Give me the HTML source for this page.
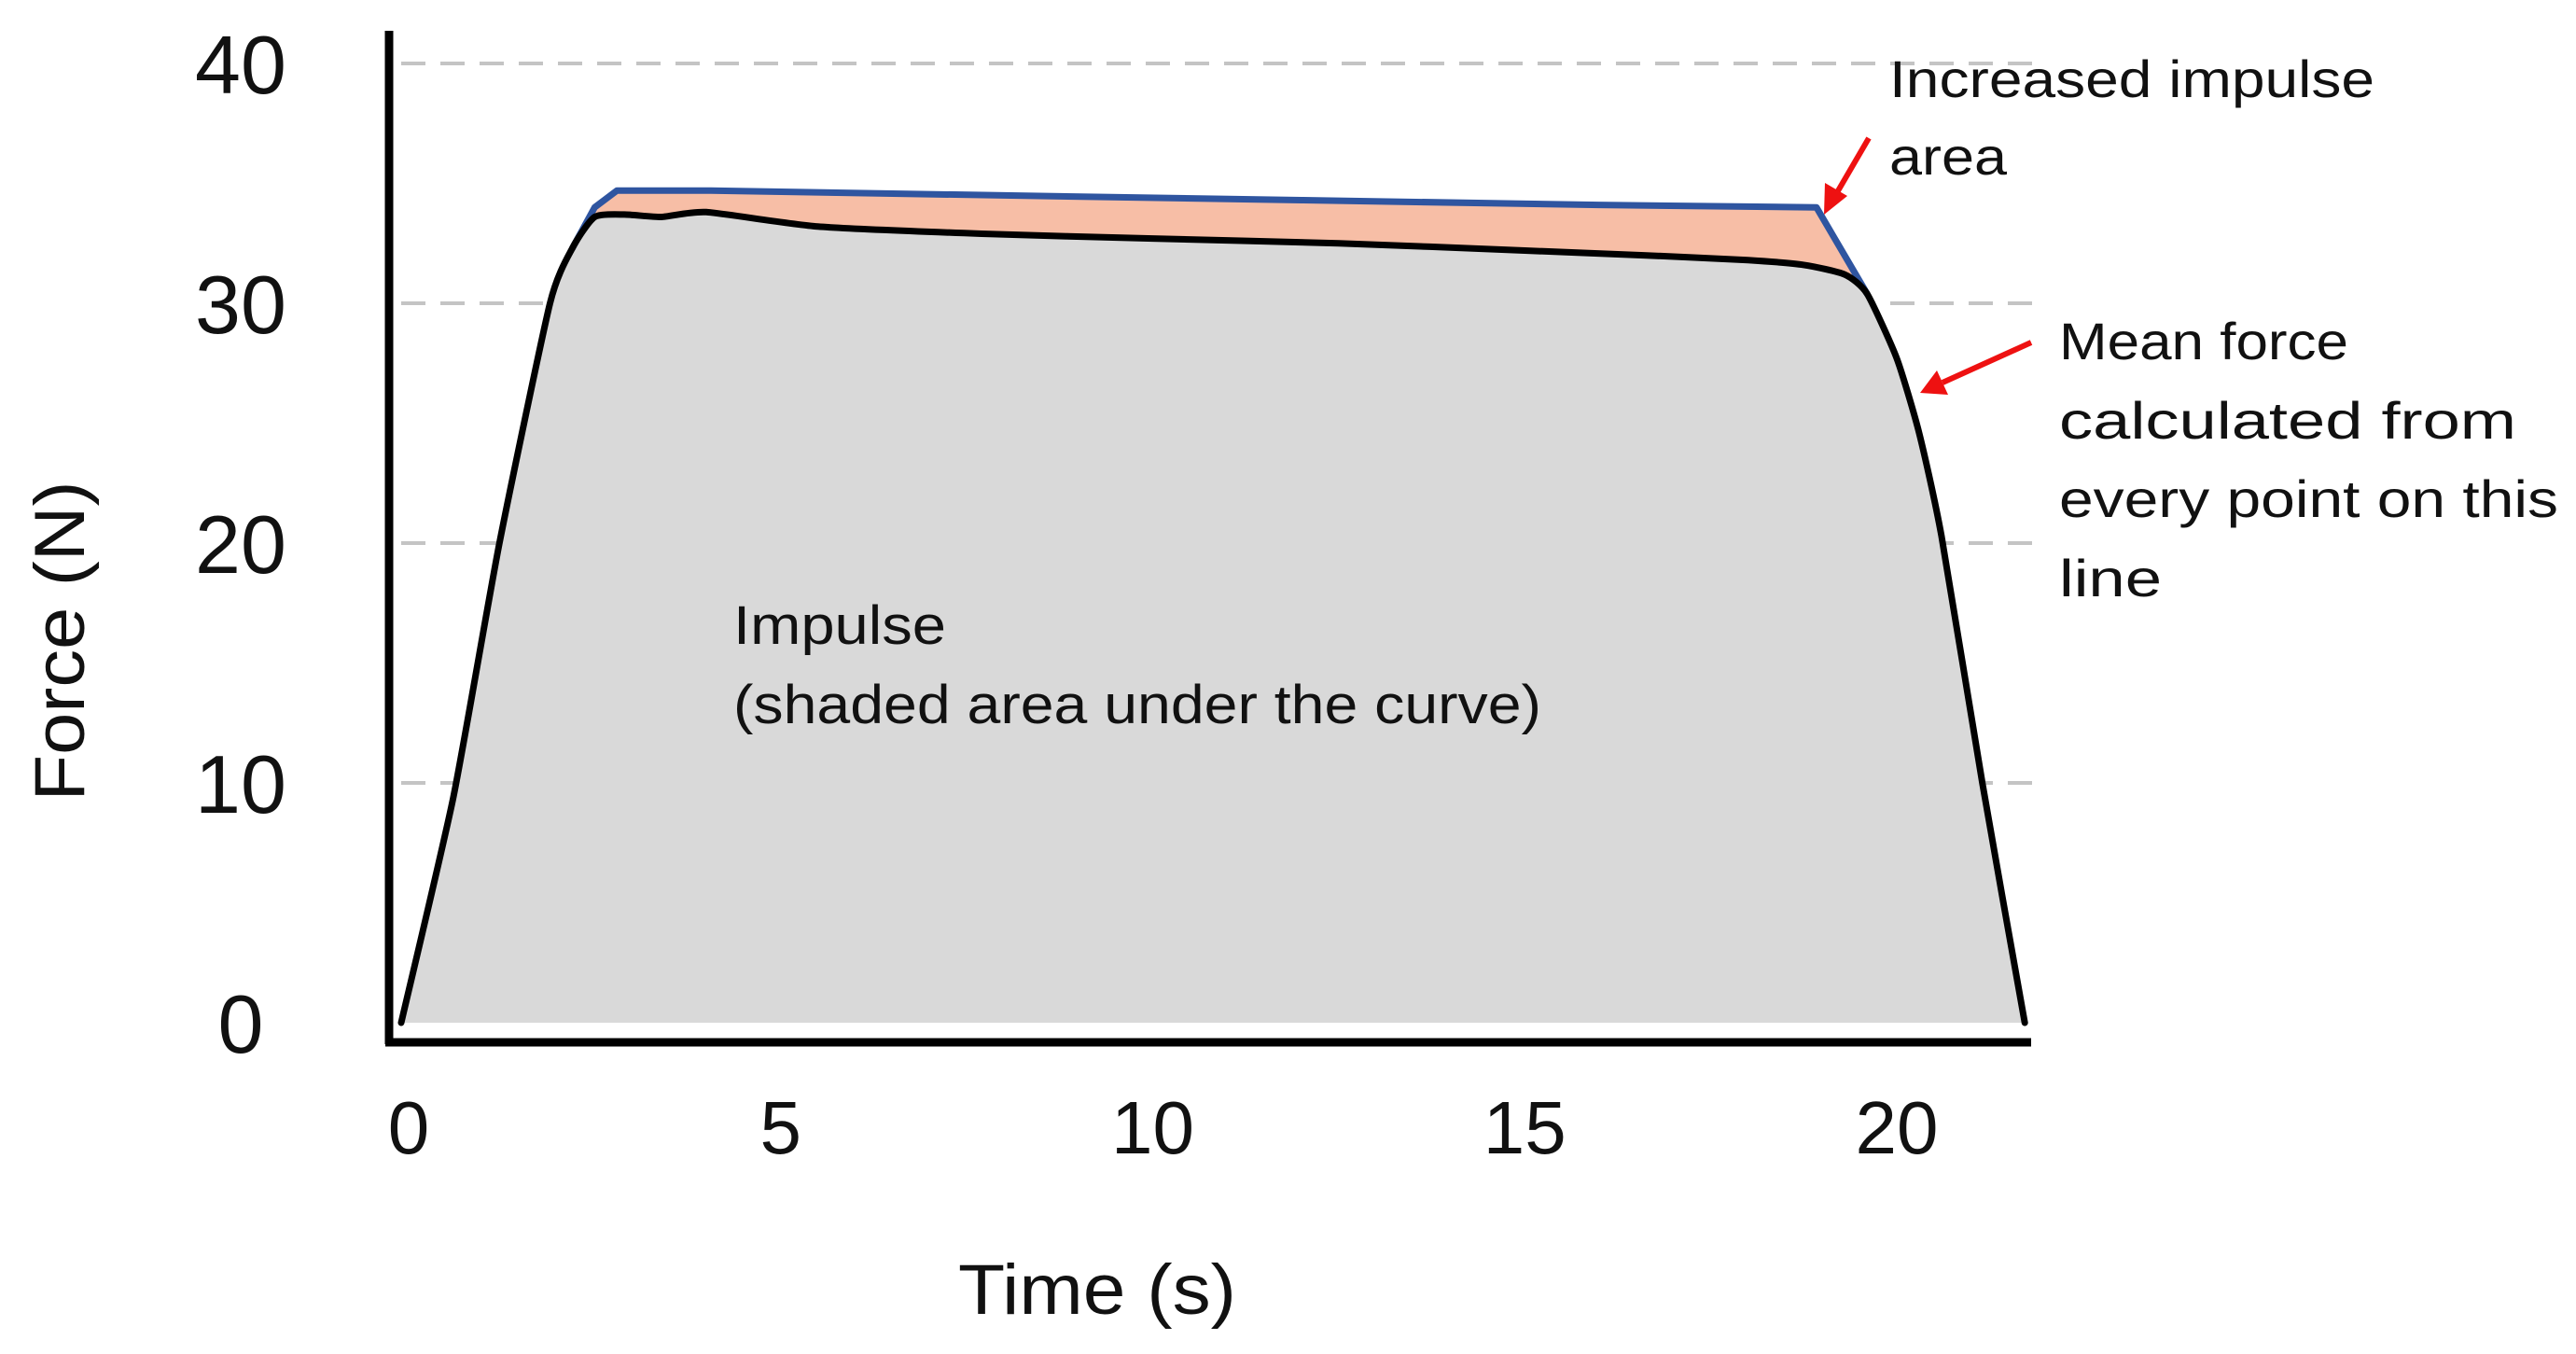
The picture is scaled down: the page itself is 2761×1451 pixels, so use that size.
<!DOCTYPE html>
<html><head><meta charset="utf-8">
<style>
html,body{margin:0;padding:0;background:#fff;}
svg{display:block;font-family:"Liberation Sans",sans-serif;}
</style></head>
<body>
<svg id="chart" width="2761" height="1451" viewBox="0 0 2761 1451" xmlns="http://www.w3.org/2000/svg">
  <g id="grid"></g>
  <g id="areas"></g>
  <g id="lines"></g>
  <line x1="417" y1="33" x2="417" y2="1119" stroke="#000" stroke-width="9"/>
  <line x1="413" y1="1117" x2="2177" y2="1117" stroke="#000" stroke-width="9"/>
  <g id="yticks" font-size="88" fill="#111" text-anchor="middle"></g>
  <g id="xticks" font-size="80" fill="#111" text-anchor="middle"></g>
  <text x="0" y="0" font-size="76" fill="#111" text-anchor="middle" transform="translate(90,687) rotate(-90)" textLength="343" lengthAdjust="spacingAndGlyphs">Force (N)</text>
  <text x="1176" y="1408" font-size="76" fill="#111" text-anchor="middle" textLength="298" lengthAdjust="spacingAndGlyphs">Time (s)</text>
  <g font-size="58" fill="#111">
    <text x="786" y="690" textLength="228" lengthAdjust="spacingAndGlyphs">Impulse</text>
    <text x="786" y="775" textLength="866" lengthAdjust="spacingAndGlyphs">(shaded area under the curve)</text>
  </g>
  <g font-size="56" fill="#111">
    <text x="2025" y="104" textLength="520" lengthAdjust="spacingAndGlyphs">Increased impulse</text>
    <text x="2025" y="187" textLength="126" lengthAdjust="spacingAndGlyphs">area</text>
  </g>
  <g font-size="56" fill="#111">
    <text x="2207" y="385" textLength="310" lengthAdjust="spacingAndGlyphs">Mean force</text>
    <text x="2207" y="470" textLength="490" lengthAdjust="spacingAndGlyphs">calculated from</text>
    <text x="2207" y="554" textLength="535" lengthAdjust="spacingAndGlyphs">every point on this</text>
    <text x="2207" y="639" textLength="110" lengthAdjust="spacingAndGlyphs">line</text>
  </g>
  <g stroke="#ee1111" stroke-width="6" fill="#ee1111">
    <line x1="2003" y1="148" x2="1968" y2="208"/>
    <polygon stroke="none" points="1955,230 1956,196 1980,210"/>
    <line x1="2177" y1="367" x2="2082" y2="410"/>
    <polygon stroke="none" points="2058,421 2076,397 2088,423"/>
  </g>
</svg>
<script>
const yTicks = [0, 10, 20, 30, 40];
const yTickLabels = ["0", "10", "20", "30", "40"];
const xTicks = [0, 5, 10, 15, 20];
const xTickLabels = ["0", "5", "10", "15", "20"];
const meanTime = [-0.1, 0.6, 1.22, 1.9, 2.2, 2.5, 2.9, 3.4, 4.0, 5.5, 7.7, 10, 12.5, 15, 16.6, 18.0, 18.75, 19.3, 19.6, 20.0, 20.3, 20.6, 21.15, 21.72];
const meanForce = [0, 9.4, 20, 30, 32.3, 33.6, 33.7, 33.6, 33.8, 33.2, 32.9, 32.7, 32.5, 32.2, 32.0, 31.8, 31.6, 31.2, 30.4, 27.7, 24.6, 20.3, 10, 0];
const peakTime = [2.2, 2.5, 2.8, 4, 8, 12, 16, 18.92, 19.6];
const peakForce = [32.3, 34.0, 34.7, 34.7, 34.5, 34.3, 34.1, 34.0, 30.4];

const NS = "http://www.w3.org/2000/svg";
function xs(t){ return 438 + 79.75 * t; }
function ys(v){ return 1096 - 25.7 * v; }
function mk(tag, attrs, parent){
  const el = document.createElementNS(NS, tag);
  for (const k in attrs) el.setAttribute(k, attrs[k]);
  parent.appendChild(el);
  return el;
}
function toXY(ts, vs){ return ts.map(function(t, i){ return [xs(t), ys(vs[i])]; }); }
function smooth(p, move, k){
  let d = (move ? 'M' : 'L') + p[0][0].toFixed(1) + ',' + p[0][1].toFixed(1);
  for (let i = 0; i < p.length - 1; i++) {
    const p0 = p[Math.max(0, i - 1)], p1 = p[i], p2 = p[i + 1], p3 = p[Math.min(p.length - 1, i + 2)];
    const c1 = [p1[0] + (p2[0] - p0[0]) * k, p1[1] + (p2[1] - p0[1]) * k];
    const c2 = [p2[0] - (p3[0] - p1[0]) * k, p2[1] - (p3[1] - p1[1]) * k];
    d += 'C' + c1[0].toFixed(1) + ',' + c1[1].toFixed(1) + ' ' + c2[0].toFixed(1) + ',' + c2[1].toFixed(1) + ' ' + p2[0].toFixed(1) + ',' + p2[1].toFixed(1);
  }
  return d;
}
const grid = document.getElementById('grid');
yTicks.forEach(function(v){
  if (v === 0) return;
  const g = mk('line', {x1: 430, x2: 2190, y1: ys(v), y2: ys(v), stroke: '#c4c4c4', 'stroke-width': 4, 'stroke-dasharray': '26 16'}, grid);
  
  
});
const yt = document.getElementById('yticks');
yTicks.forEach(function(v, i){
  const t = mk('text', {x: 258, y: ys(v) + 32}, yt);
  t.textContent = yTickLabels[i];
  
  
});
const xt = document.getElementById('xticks');
xTicks.forEach(function(v, i){
  const t = mk('text', {x: xs(v), y: 1236}, xt);
  t.textContent = xTickLabels[i];
  
  
});
const areas = document.getElementById('areas');
const meanP = toXY(meanTime, meanForce);
const impulse = mk('path', {d: smooth(meanP, true, 0.1) + 'L' + xs(meanTime[meanTime.length-1]) + ',' + ys(0) + 'L' + xs(meanTime[0]) + ',' + ys(0) + 'Z', fill: '#d9d9d9'}, areas);


const t0 = peakTime[0], t1 = peakTime[peakTime.length-1];
const backT = [], backV = [];
for (let i = meanTime.length - 1; i >= 0; i--) {
  if (meanTime[i] >= t0 && meanTime[i] <= t1) { backT.push(meanTime[i]); backV.push(meanForce[i]); }
}
const peakP = toXY(peakTime, peakForce);
const extra = mk('path', {d: smooth(peakP, true, 0) + smooth(toXY(backT, backV), false, 0.1) + 'Z', fill: '#f7bea6'}, areas);


const lines = document.getElementById('lines');
const peak = mk('path', {d: smooth(peakP, true, 0), fill: 'none', stroke: '#2f55a0', 'stroke-width': 7, 'stroke-linejoin': 'round', 'stroke-linecap': 'round'}, lines);


const mean = mk('path', {d: smooth(meanP, true, 0.1), fill: 'none', stroke: '#000', 'stroke-width': 7, 'stroke-linejoin': 'round', 'stroke-linecap': 'round'}, lines);


</script>
</body></html>
